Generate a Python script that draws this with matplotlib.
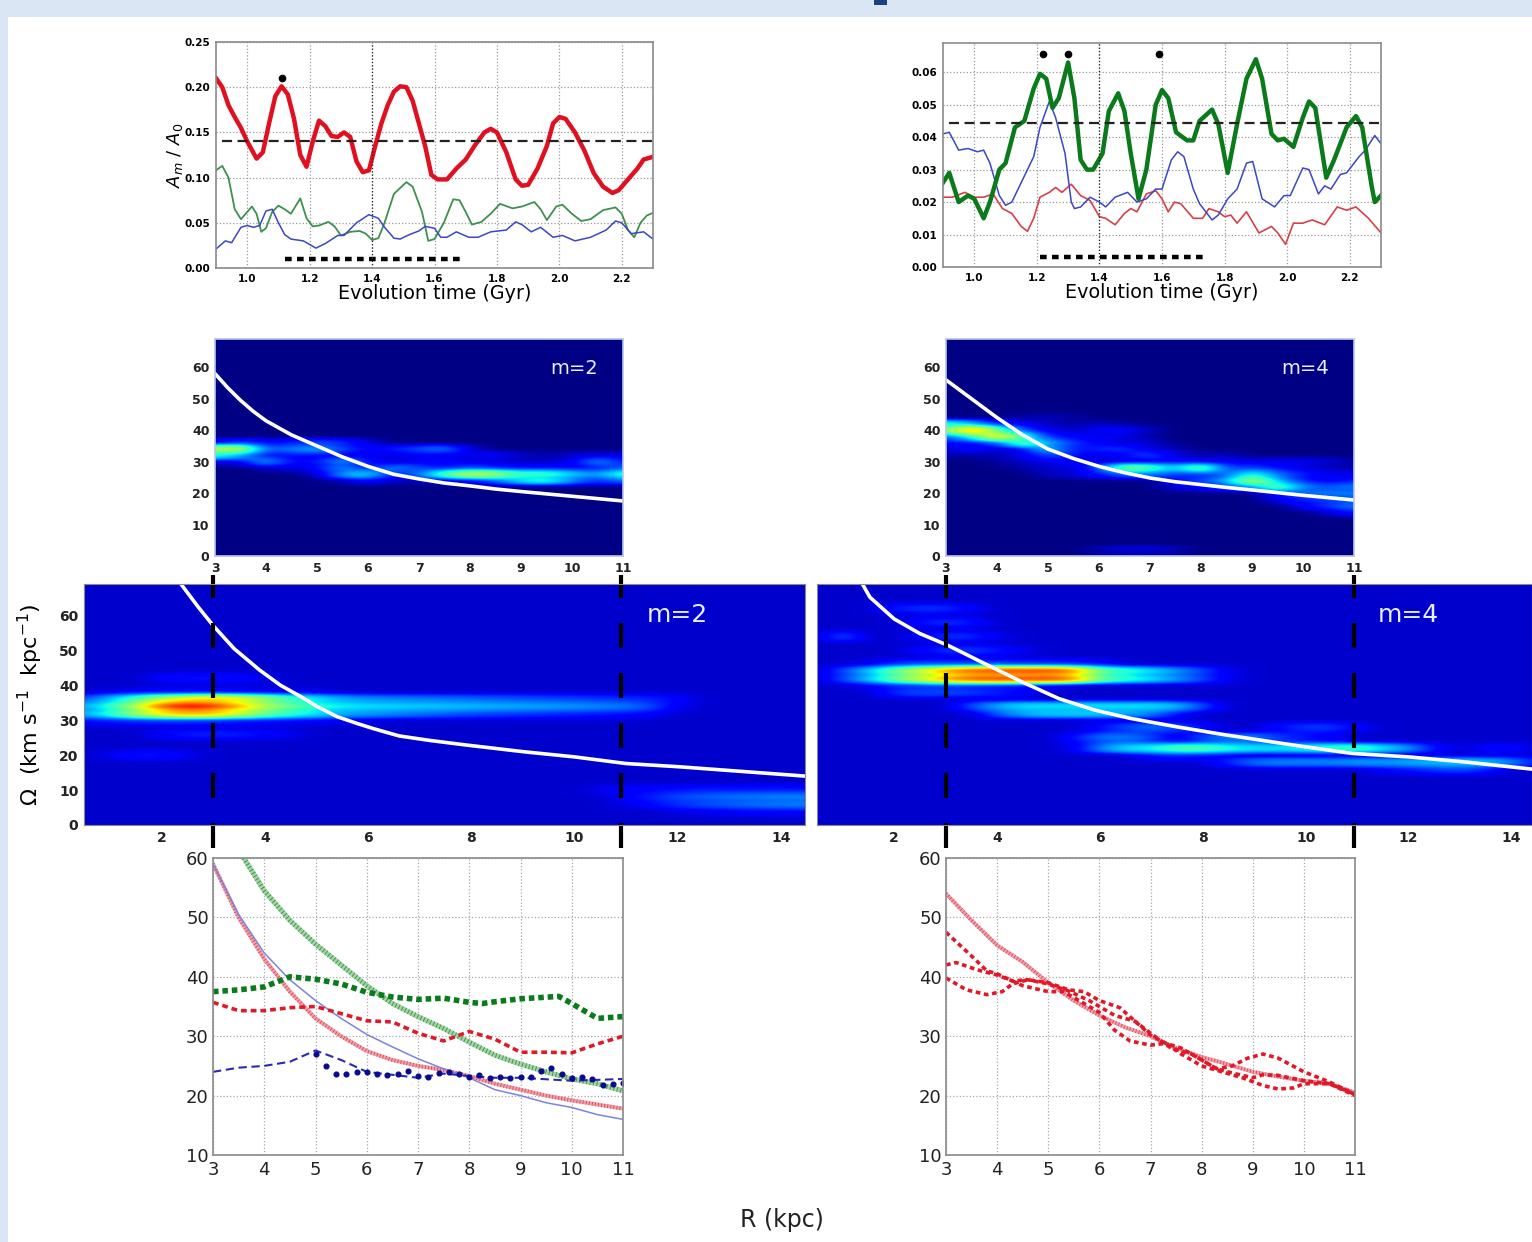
import numpy as np
import matplotlib
matplotlib.use('Agg')
import matplotlib.pyplot as plt
from matplotlib.patches import Rectangle

W, H = 1532, 1242

# top row, left panel (m=2 amplitude)
t_l_red = [.90,.92,.94,.96,.98,1.00,1.03,1.05,1.07,1.09,1.11,1.13,1.15,1.17,1.19,1.21,1.23,1.25,1.27,1.29,1.31,1.33,1.35,1.37,1.39,1.41,1.43,1.45,1.47,1.49,1.51,1.53,1.55,1.57,1.59,1.61,1.64,1.67,1.70,1.73,1.76,1.78,1.80,1.83,1.86,1.88,1.90,1.93,1.96,1.98,2.00,2.02,2.05,2.08,2.11,2.14,2.17,2.19,2.22,2.25,2.27,2.30]
a_l_red = [.21,.20,.18,.167,.155,.14,.121,.128,.16,.19,.201,.192,.165,.125,.112,.14,.163,.157,.146,.145,.15,.145,.118,.106,.108,.135,.16,.18,.195,.201,.2,.185,.16,.135,.103,.098,.098,.11,.12,.136,.15,.154,.15,.128,.098,.091,.092,.11,.135,.16,.167,.165,.15,.13,.105,.09,.083,.086,.098,.11,.12,.123]
t_l_green = [.90,.92,.94,.96,.98,1.0,1.015,1.03,1.045,1.06,1.08,1.10,1.12,1.14,1.17,1.19,1.21,1.23,1.26,1.28,1.30,1.33,1.36,1.38,1.40,1.42,1.44,1.47,1.51,1.53,1.56,1.58,1.60,1.63,1.66,1.68,1.70,1.72,1.75,1.78,1.81,1.85,1.88,1.92,1.94,1.96,1.99,2.01,2.04,2.07,2.10,2.14,2.18,2.20,2.22,2.24,2.26,2.28,2.30]
a_l_green = [.108,.113,.10,.065,.054,.062,.068,.06,.04,.044,.062,.069,.065,.060,.077,.055,.046,.047,.051,.046,.036,.04,.041,.038,.031,.033,.05,.082,.095,.09,.062,.03,.032,.05,.076,.075,.062,.048,.051,.06,.071,.066,.068,.073,.065,.053,.068,.07,.06,.052,.054,.064,.067,.06,.042,.034,.05,.058,.061]
t_l_blue = [.90,.93,.95,.98,1.0,1.02,1.04,1.06,1.08,1.10,1.12,1.14,1.18,1.22,1.25,1.29,1.31,1.35,1.39,1.42,1.44,1.47,1.49,1.52,1.55,1.57,1.60,1.62,1.64,1.67,1.71,1.74,1.78,1.83,1.86,1.88,1.91,1.94,1.98,2.01,2.05,2.10,2.15,2.18,2.20,2.23,2.27,2.30]
a_l_blue = [.021,.03,.028,.045,.047,.045,.047,.063,.065,.05,.037,.032,.030,.022,.027,.036,.036,.05,.059,.055,.045,.033,.032,.037,.041,.046,.044,.034,.034,.04,.034,.034,.04,.042,.051,.048,.04,.045,.034,.036,.03,.034,.042,.052,.05,.038,.04,.032]

# top row, right panel (m=4 amplitude)
t_r_green = [.90,.92,.95,.98,1.0,1.03,1.05,1.08,1.10,1.13,1.16,1.19,1.21,1.23,1.25,1.27,1.30,1.32,1.34,1.36,1.38,1.41,1.43,1.46,1.48,1.50,1.525,1.55,1.58,1.60,1.62,1.645,1.68,1.70,1.72,1.76,1.78,1.81,1.84,1.87,1.90,1.92,1.95,1.97,1.99,2.02,2.05,2.07,2.09,2.125,2.15,2.19,2.22,2.24,2.27,2.28,2.30]
a_r_green = [.026,.029,.02,.022,.021,.015,.02,.03,.032,.043,.045,.055,.0595,.058,.049,.052,.063,.052,.033,.03,.03,.035,.048,.0535,.048,.035,.021,.03,.05,.0545,.052,.0415,.039,.039,.045,.0485,.044,.029,.044,.058,.064,.058,.041,.039,.0395,.037,.046,.051,.049,.0275,.033,.043,.0465,.043,.025,.02,.022]
t_r_blue = [.90,.92,.95,.98,1.01,1.03,1.05,1.08,1.10,1.12,1.15,1.19,1.21,1.24,1.26,1.29,1.31,1.32,1.34,1.37,1.40,1.42,1.45,1.49,1.52,1.55,1.58,1.60,1.63,1.65,1.67,1.70,1.72,1.76,1.78,1.81,1.84,1.87,1.89,1.92,1.96,1.99,2.01,2.05,2.07,2.10,2.12,2.14,2.17,2.19,2.23,2.25,2.28,2.30]
a_r_blue = [.041,.0415,.036,.0365,.0355,.036,.032,.022,.019,.02,.026,.034,.043,.051,.046,.035,.02,.018,.0185,.0215,.02,.0185,.0215,.023,.02,.021,.024,.024,.033,.0355,.034,.024,.0195,.0145,.016,.021,.024,.032,.0325,.021,.0185,.022,.022,.0305,.03,.0225,.025,.024,.0285,.029,.034,.036,.0405,.038]
t_r_red = [.90,.93,.97,1.0,1.03,1.06,1.09,1.12,1.15,1.17,1.19,1.21,1.24,1.26,1.28,1.31,1.34,1.37,1.40,1.42,1.45,1.48,1.50,1.52,1.55,1.58,1.60,1.62,1.64,1.66,1.70,1.73,1.75,1.78,1.80,1.82,1.84,1.87,1.91,1.95,1.97,1.995,2.02,2.05,2.08,2.12,2.16,2.19,2.22,2.26,2.30]
a_r_red = [.0215,.0215,.023,.0215,.0215,.0225,.018,.0165,.0125,.011,.015,.0215,.023,.0245,.023,.0255,.022,.0205,.0155,.015,.013,.0165,.018,.017,.0225,.0235,.021,.017,.02,.0195,.015,.015,.018,.017,.0155,.016,.0135,.017,.0105,.0125,.0105,.007,.0135,.0135,.0145,.013,.0185,.0175,.0185,.015,.0105]

# spectrogram cells: (omega, first R, powers along R)
zoom_m2_rows = [
    (36, 3.0, [.1,.2,.12,.15,.2,.18,.08]),
    (34, 3.0, [.55,.62,.2,.25,.3,.2,.12,.15,.2,.25,.08]),
    (32, 3.0, [.4,.3,.12,.14,.12,.12,.08,.1,.12,.08,.1,.12,.06,.04,.06,.08,.08]),
    (30, 3.0, [.06,.1,.3,.12,.14,.3,.14,.06,.1,.14,.08,.08,.06,.06,.1,.28,.14]),
    (28, 4.0, [.05,.08,.12,.3,.12,.26,.2,.14,.22,.16,.14,.14,.12,.14,.22]),
    (26, 5.0, [.06,.3,.36,.12,.24,.46,.6,.56,.42,.44,.34,.26,.44]),
    (24, 5.5, [.04,.14,.05,.04,.08,.12,.22,.36,.42,.26,.16,.24]),
]
zoom_m4_rows = [
    (44, 4.5, [.03,.06,.03]),
    (42, 3.0, [.4,.32,.15,.1,.06,.03,.06,.03]),
    (40, 3.0, [.5,.78,.5,.2,.1,.06,.12,.12,.06]),
    (38, 3.0, [.22,.38,.7,.46,.16,.12,.1,.1,.03]),
    (36, 3.0, [.12,.14,.2,.5,.3,.18,.12,.08,.08]),
    (34, 3.0, [.06,.14,.06,.12,.36,.14,.16,.18,.08,.06]),
    (32, 3.0, [.04,.03,.05,.1,.2,.16,.08,.12,.2,.08,.03,.06]),
    (30, 4.0, [.03,.06,.1,.12,.08,.1,.1,.14,.1,.12,.08,.1,.1,.08,.03]),
    (28, 4.5, [.03,.08,.08,.2,.52,.46,.3,.52,.18,.2,.14,.08,.06,.03]),
    (26, 5.0, [.06,.08,.14,.22,.26,.18,.18,.22,.42,.24,.16,.1,.1]),
    (24, 7.5, [.14,.2,.3,.62,.32,.16,.1,.16,.16]),
    (22, 7.5, [.08,.12,.2,.26,.5,.26,.2,.26,.35,.26]),
    (20, 9.5, [.16,.24,.26,.26,.26]),
    (18, 9.5, [.1,.16,.2,.26,.3]),
    (16, 10.0, [.12,.18,.26,.4]),
    (14, 10.5, [.08,.16]),
    (2, 6.0, [.05,.08,.08,.05]),
]
full_m2_rows = [
    (42, 2.0, [.12,.14,.14,.13,.09]),
    (38, 1.0, [.09,.12,.13,.13,.13,.12,.11,.1,.09]),
    (36, 0.5, [.2,.32,.45,.58,.66,.7,.66,.55,.44,.36,.3,.27,.26,.25,.24,.23,.22,.21,.2,.19,.18,.17,.16,.13]),
    (34, 0.5, [.3,.42,.6,.85,.95,.9,.75,.6,.5,.42,.38,.36,.35,.34,.33,.32,.31,.3,.29,.28,.26,.25,.2,.1]),
    (32, 0.5, [.3,.42,.56,.68,.74,.72,.62,.5,.42,.36,.3,.28,.26,.24,.22,.2,.19,.18,.17,.16,.15,.14,.12]),
    (30, 0.5, [.13,.15,.17,.18,.18,.17,.15,.14,.13,.11,.1,.09]),
    (26, 2.0, [.12,.15,.16,.15,.13,.1]),
    (20, 1.0, [.1,.14,.14,.1]),
    (10, 10.5, [.1,.12,.13,.14,.15,.15,.15,.15,.14]),
    (8, 11.0, [.12,.16,.2,.22,.24,.25,.26,.26]),
    (6, 11.0, [.09,.13,.17,.2,.22,.24,.25,.26]),
    (4, 12.0, [.09,.1,.11,.12,.12,.12]),
]
full_m4_rows = [
    (62, 2.0, [.15,.17,.17,.12]),
    (58, 2.5, [.14,.17,.15]),
    (54, 1.0, [.22]),
    (54, 2.5, [.12,.17,.17,.1]),
    (50, 2.5, [.12,.17,.18,.15,.1]),
    (46, 1.5, [.1,.17,.2,.2,.2,.2,.18,.18,.16,.14]),
    (44, 1.0, [.2,.33,.5,.62,.76,.84,.86,.86,.87,.8,.5,.42,.36,.28,.2,.1]),
    (42, 1.0, [.2,.33,.5,.62,.76,.84,.86,.86,.87,.8,.5,.42,.36,.28,.2,.1]),
    (40, 1.5, [.1,.16,.18,.2,.18,.16,.14,.12]),
    (38, 2.0, [.17,.2,.2,.18,.16,.12]),
    (34, 3.5, [.2,.3,.36,.36,.36,.36,.36,.36,.32,.2]),
    (32, 4.0, [.22,.3,.34,.34,.34,.3,.26,.14]),
    (28, 6.0, [.14,.2,.24,.2,.14]),
    (28, 9.5, [.14,.18,.18,.12]),
    (25, 5.5, [.14,.24,.26,.2,.1,.2,.26,.26,.18]),
    (25, 9.5, [.12,.15,.12]),
    (22, 5.5, [.1,.26,.36,.38,.46,.46,.4,.36,.36,.38,.42,.44,.36,.28,.14]),
    (20, 7.0, [.14,.16,.14,.1]),
    (18, 8.5, [.16,.24,.26,.26,.26,.28,.28,.3,.32,.34,.32,.26,.14]),
    (16, 11.5, [.12,.14,.18,.2,.16]),
    (22, 13.5, [.12,.14]),
]

# corotation curves drawn on the spectrograms
r_zoom_l = [3,3.25,3.5,3.75,4,4.5,5,5.5,6,6.5,7,7.5,8,8.5,9,10,11]
om_zoom_l = [58,53.5,49.5,46,43,38.5,35,31.5,28.5,26,24.5,23.2,22.3,21.3,20.5,19,17.5]
r_zoom_r = [3,3.25,3.5,3.75,4,4.5,5,5.5,6,6.5,7,7.5,8,8.5,9,10,11]
om_zoom_r = [56,53,50,47,44,38.5,34,31,28.5,26.5,24.8,23.6,22.7,21.8,21,19.3,17.8]
r_full_l = [2.38,2.7,3,3.4,3.9,4.3,4.7,5,5.4,5.8,6.1,6.6,7.2,7.9,9,10,11,12,14.47]
om_full_l = [68.8,62.5,57,50.5,44.3,40,36.7,34,31,29,27.6,25.5,24.2,22.9,21,19.5,17.6,16.7,14]
r_full_r = [1.39,1.53,2,2.5,3.05,3.76,4.48,5.2,5.9,6.6,7.5,8.4,9.75,10.9,12,13.06,14.4]
om_full_r = [68.8,65.2,59,54.8,51.4,46.2,41,36.2,32.9,30.5,28.1,25.9,22.9,20.5,19.5,18.1,16]

# bottom row, left panel
r_b = [3,3.5,4,4.5,5,5.5,6,6.5,7,7.5,8,8.5,9,9.5,10,10.5,11]
om_red = [59,50,43,37.5,33,30,27.5,26,25,24.3,23.3,22,21,20,19.2,18.5,17.8]
om_blue = [59,50.5,44,39.5,36,33,30.3,28.2,26.2,24.5,23,21,20,18.8,18,16.8,16]
r_green = [3.6,4,4.5,5,5.5,6,6.5,7,7.5,8,8.5,9,9.5,10,10.5,11]
om_green = [60,54.5,49.5,45.5,42,38.5,35.5,33.3,31.3,29,26.8,25.3,24,22.8,22,20.8]
r_green_d = [3,3.5,4,4.5,5,5.5,6,6.5,7,7.5,8,8.25,8.5,9,9.75,10,10.5,11]
om_green_d = [37.5,37.8,38.3,40,39.6,38.8,37.4,36.6,36.2,36.4,35.7,35.5,35.8,36.3,36.7,35.5,33,33.3]
r_red_d = [3,3.5,4,4.5,5,5.5,6,6.5,7,7.5,7.75,8,8.5,9,9.5,10,10.5,11]
om_red_d = [35.7,34.3,34.3,34.8,35,33.8,32.6,32.4,30.5,29.2,30,30.8,29.5,27.3,27.3,27.2,28.7,30]
r_blue_d = [3,3.5,4,4.5,5,5.5,6,6.5,7,7.5,8,8.5,9,10,11]
om_blue_d = [24,24.7,25,25.7,27.6,26,24,23.5,23,23.7,23.3,23,23,22.5,22.8]
r_blue_p = [5,5.2,5.4,5.6,5.8,6,6.2,6.4,6.6,6.8,7,7.2,7.4,7.6,7.8,8,8.2,8.4,8.6,8.8,9,9.2,9.4,9.6,9.8,10,10.2,10.4,10.6,10.8,11]
om_blue_p = [27,25,23.7,23.7,24,24,23.6,23.4,23.6,24.1,23.3,23.2,23.8,24,23.7,23.2,23.5,23,23.1,23,23.2,23.1,24.1,24.6,23.7,23,23.2,22.8,21.8,22,22.2]

# bottom row, right panel
r_m4 = [3,3.5,4,4.5,5,5.5,6,6.5,7,7.5,8,8.5,9,9.5,10,10.5,11]
om_m4 = [54,49.5,45.3,42.5,39,36,33.5,31.5,30,28,26.5,25.3,24,23.2,22.5,22,20.5]
r_m4_1 = [3,3.5,3.8,4,4.5,5,5.3,5.7,6,6.3,6.6,7,7.3,7.6,8,8.4,8.8,9.2,9.5,9.8,10,10.5,11]
om_m4_1 = [47.5,43.5,41,40.5,38.5,37.5,37.5,35.5,34,31,29.2,28.5,28.8,27,25,24,23,21.7,21.1,21.3,22,22,20]
r_m4_2 = [3,3.2,3.6,4,4.3,4.6,5,5.4,5.8,6,6.3,6.7,7,7.4,7.8,8,8.3,8.6,9,9.2,9.5,10,10.5,11]
om_m4_2 = [42,42.4,41.2,40.3,39.3,39.5,38.8,37.6,36,35,33.5,32.5,30.5,28,27,26,24.5,23.8,23,23.5,23.4,22.5,22,20.2]
r_m4_3 = [3,3.4,3.8,4.1,4.3,4.6,5,5.4,5.7,6,6.4,6.7,7,7.3,7.6,8,8.3,8.6,8.9,9.2,9.5,10,10.5,11]
om_m4_3 = [39.8,37.8,37,37.5,38.8,39.5,39,37.8,37.5,36,34.8,32.5,30.2,28.8,28,26,24.5,25,26.3,27,26.3,24,22.3,20.2]

fig = plt.figure(figsize=(W / 100, H / 100), dpi=100, facecolor='white')


def box(x0, y0, x1, y1):
    return fig.add_axes([x0 / W, 1 - y1 / H, (x1 - x0) / W, (y1 - y0) / H])


def spines(ax, color='#8a8a8a', lw=1.2):
    for s in ax.spines.values():
        s.set_color(color)
        s.set_linewidth(lw)


def grid_from_rows(rows, r_min, r_max, bg):
    r_axis = np.arange(r_min, r_max + .01, .5)
    om_axis = np.arange(0, 72)
    z = np.full((len(om_axis), len(r_axis)), bg, dtype=float)
    for om, r0, vals in rows:
        j = int(round((r0 - r_min) / .5))
        for k, v in enumerate(vals):
            if j + k < len(r_axis):
                # each row is about 2 units of omega thick
                z[om, j + k] = max(z[om, j + k], v)
                z[om + 1, j + k] = max(z[om + 1, j + k], bg + (v - bg) * .8)
                z[om - 1, j + k] = max(z[om - 1, j + k], bg + (v - bg) * .8)
    ext = [r_min - .25, r_max + .25, -.5, 71.5]
    return z, ext


def spectro(ax, rows, r_min, r_max, bg, xlim, xticks, r, om, size, ylabels=True):
    z, ext = grid_from_rows(rows, r_min, r_max, bg)
    ax.imshow(z, origin='lower', extent=ext, cmap='jet', vmin=0, vmax=1,
              interpolation='bicubic', aspect='auto')
    ax.plot(r, om, color='white', lw=2.6, solid_joinstyle='round')
    ax.set_xlim(*xlim)
    ax.set_ylim(0, 69)
    ax.set_xticks(xticks)
    ax.set_yticks(range(0, 70, 10) if ylabels else [])
    ax.tick_params(length=0, labelsize=size, pad=4, labelcolor='#222222')
    for lab in ax.get_xticklabels() + ax.get_yticklabels():
        lab.set_fontweight('bold')


# page background of the slide
fig.add_artist(Rectangle((0, 1 - 17 / H), 1, 17 / H, transform=fig.transFigure, color='#dbe6f4', lw=0))
fig.add_artist(Rectangle((0, 0), 8 / W, 1, transform=fig.transFigure, color='#dbe6f4', lw=0))
fig.add_artist(Rectangle((874 / W, 1 - 5 / H), 13 / W, 5 / H, transform=fig.transFigure, color='#1f3f7f', lw=0))

# top row
ax = box(216, 42, 653, 268)
ax.plot(t_l_green, a_l_green, color='#3f9050', lw=1.3)
ax.plot(t_l_blue, a_l_blue, color='#3b47c4', lw=1.1)
ax.plot(t_l_red, a_l_red, color='#e01020', lw=3.2, solid_joinstyle='round')
ax.plot([.92, 2.3], [.14, .14], color='#222222', lw=1.6, ls=(0, (4.5, 2.5)))
ax.plot([1.12, 1.69], [.01, .01], color='black', lw=3.2, ls=(0, (1.5, 1.2)))
ax.plot([1.11], [.21], 'o', color='black', ms=4.5)
ax.set_xlim(.9, 2.3)
ax.set_ylim(0, .25)
ax.set_yticks([0, .05, .1, .15, .2, .25])
ax.set_yticklabels(['0.00', '0.05', '0.10', '0.15', '0.20', '0.25'])
ax.set_ylabel(r'$A_m\ /\ A_0$', fontsize=13, labelpad=0)
top_axes = [ax]

ax = box(943, 43, 1381, 267)
ax.plot(t_r_red, a_r_red, color='#d84048', lw=1.2)
ax.plot(t_r_blue, a_r_blue, color='#3b47c4', lw=1.1)
ax.plot(t_r_green, a_r_green, color='#0a7a1a', lw=3.2, solid_joinstyle='round')
ax.plot([.92, 2.3], [.0445, .0445], color='#222222', lw=1.6, ls=(0, (4.5, 2.5)))
ax.plot([1.21, 1.74], [.003, .003], color='black', lw=3.2, ls=(0, (1.5, 1.2)))
ax.plot([1.22, 1.30, 1.59], [.0655, .0655, .0655], 'o', color='black', ms=4.5)
ax.set_xlim(.9, 2.3)
ax.set_ylim(0, .069)
ax.set_yticks([0, .01, .02, .03, .04, .05, .06])
ax.set_yticklabels(['0.00', '0.01', '0.02', '0.03', '0.04', '0.05', '0.06'])
top_axes.append(ax)

for ax in top_axes:
    ax.set_xticks([1, 1.2, 1.4, 1.6, 1.8, 2, 2.2])
    ax.set_xticklabels(['1.0', '1.2', '1.4', '1.6', '1.8', '2.0', '2.2'])
    ax.grid(True, color='#9a9a9a', ls=':', lw=.9)
    ax.axvline(1.4, color='#222222', ls=':', lw=.9)
    ax.set_axisbelow(True)
    ax.tick_params(length=0, labelsize=7.5, pad=4, color='#777777')
    for lab in ax.get_xticklabels() + ax.get_yticklabels():
        lab.set_fontweight('bold')
    ax.set_xlabel('Evolution time (Gyr)', fontsize=13.8, labelpad=0)
    spines(ax)

# zoomed spectrograms
ticks_zoom = list(range(3, 12))
ax = box(215, 339, 623, 556)
spectro(ax, zoom_m2_rows, 3, 11, .005, (3, 11), ticks_zoom, r_zoom_l, om_zoom_l, 9)
ax.text(9.58, 59.5, 'm=2', color='#e8eefc', fontsize=14, va='center')
spines(ax, '#b8c4ea')

ax = box(946, 339, 1354, 556)
spectro(ax, zoom_m4_rows, 3, 11, .005, (3, 11), ticks_zoom, r_zoom_r, om_zoom_r, 9)
ax.text(9.58, 59.5, 'm=4', color='#e8eefc', fontsize=14, va='center')
spines(ax, '#b8c4ea')

# full spectrograms
ticks_full = list(range(2, 15, 2))
ax = box(84, 584, 805, 825)
spectro(ax, full_m2_rows, .5, 14.5, .07, (.49, 14.47), ticks_full, r_full_l, om_full_l, 10)
ax.text(11.4, 60, 'm=2', color='#e8eefc', fontsize=18, va='center')
ax.set_ylabel(r'$\Omega$  (km s$^{-1}$  kpc$^{-1}$)', fontsize=16, labelpad=10)
ax.axvline(3, ymin=-.095, ymax=1.037, color='black', lw=3, ls=(0, (6, 6)), clip_on=False)
ax.axvline(10.9, ymin=-.095, ymax=1.037, color='black', lw=3, ls=(0, (6, 6)), clip_on=False)
spines(ax, '#8a8a8a', .8)

ax = box(817, 584, 1532, 825)
spectro(ax, full_m4_rows, .5, 14.5, .07, (.5, 14.4), ticks_full, r_full_r, om_full_r, 10, ylabels=False)
ax.text(11.4, 60, 'm=4', color='#e8eefc', fontsize=18, va='center')
ax.axvline(3, ymin=-.095, ymax=1.037, color='black', lw=3, ls=(0, (6, 6)), clip_on=False)
ax.axvline(10.93, ymin=-.095, ymax=1.037, color='black', lw=3, ls=(0, (6, 6)), clip_on=False)
spines(ax, '#8a8a8a', .8)

# bottom row
ax1 = box(213, 858, 623, 1155)
ax1.plot(r_b, om_red, color='#f0a0aa', lw=2.8)
ax1.plot(r_b, om_red, color='#e04050', lw=2.8, ls=(0, (.2, .6)))
ax1.plot(r_b, om_blue, color='#7a84dc', lw=1.1)
ax1.plot(r_green, om_green, color='#a5d4a5', lw=3.6)
ax1.plot(r_green, om_green, color='#3f9a4f', lw=3.6, ls=(0, (.2, .5)))
ax1.plot(r_green_d, om_green_d, color='#0a7a1a', lw=4, ls=(0, (1, .7)))
ax1.plot(r_red_d, om_red_d, color='#e01828', lw=2.6, ls=(0, (1.6, 1.1)))
ax1.plot(r_blue_d, om_blue_d, color='#2a2ab0', lw=1.5, ls=(0, (4, 2.2)))
ax1.plot(r_blue_p, om_blue_p, 'o', color='#0a0a90', ms=3.4)

ax2 = box(946, 858, 1355, 1155)
ax2.plot(r_m4, om_m4, color='#f0a0aa', lw=2.8)
ax2.plot(r_m4, om_m4, color='#e04050', lw=2.8, ls=(0, (.2, .6)))
ax2.plot(r_m4_1, om_m4_1, color='#e01828', lw=2.6, ls=(0, (1.3, 1)))
ax2.plot(r_m4_2, om_m4_2, color='#e01828', lw=2.6, ls=(0, (1.3, 1)))
ax2.plot(r_m4_3, om_m4_3, color='#e01828', lw=2.6, ls=(0, (1.3, 1)))

for ax in [ax1, ax2]:
    ax.set_xlim(3, 11)
    ax.set_ylim(10, 60)
    ax.set_xticks(range(3, 12))
    ax.set_yticks(range(10, 61, 10))
    ax.grid(True, color='#a8a8a8', ls=':', lw=.9)
    ax.set_axisbelow(True)
    ax.tick_params(axis='x', length=0, labelsize=13, pad=4, labelcolor='#222222')
    ax.tick_params(axis='y', length=0, labelsize=13, pad=3, labelcolor='#222222')
    spines(ax)

fig.text(782 / W, 1 - 1220 / H, 'R (kpc)', fontsize=17, ha='center', va='center', color='#222222')

fig.savefig('out.png', dpi=100)
